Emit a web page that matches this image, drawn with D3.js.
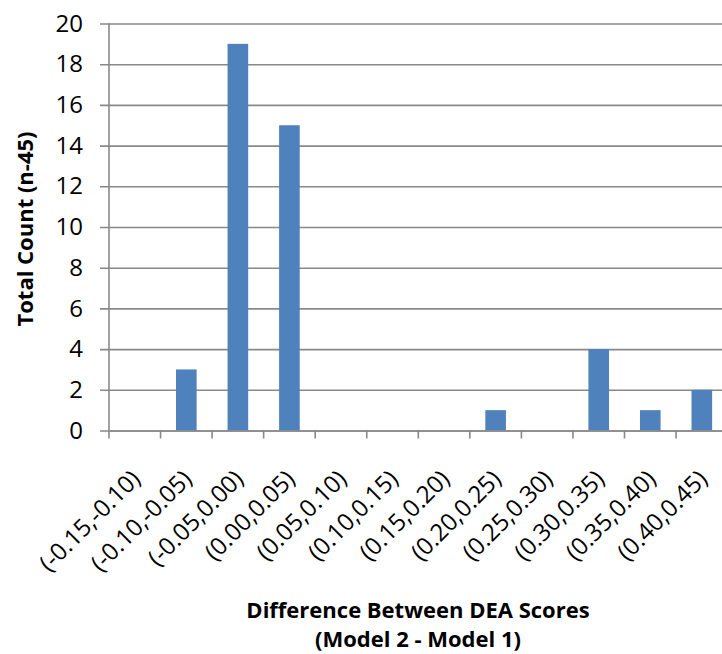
<!DOCTYPE html>
<html>
<head>
<meta charset="utf-8">
<script src="https://cdn.jsdelivr.net/npm/d3@7"></script>
<style>
  body { margin: 0; background: #fff; }
  svg { display: block; font-family: "Open Sans", sans-serif; }
</style>
</head>
<body>
<svg id="chart"></svg>
<script>
let categories = ['(-0.15,-0.10)', '(-0.10,-0.05)', '(-0.05,0.00)', '(0.00,0.05)', '(0.05,0.10)', '(0.10,0.15)',
                  '(0.15,0.20)', '(0.20,0.25)', '(0.25,0.30)', '(0.30,0.35)', '(0.35,0.40)', '(0.40,0.45)'];
let counts = [0, 3, 19, 15, 0, 0, 0, 1, 0, 4, 1, 2];
let yTicks = [0, 2, 4, 6, 8, 10, 12, 14, 16, 18, 20];

let width = 722;
let height = 654;
let plotLeft = 109, plotRight = 727.6, plotTop = 23.5, plotBottom = 430.5;
let gridColor = '#898989';

let svg = d3.select('#chart')
  .attr('width', width)
  .attr('height', height);

let xScale = d3.scaleBand()
  .domain(categories)
  .range([plotLeft, plotRight])
  .paddingInner(0)
  .paddingOuter(0);

let yScale = d3.scaleLinear()
  .domain([0, 20])
  .range([plotBottom, plotTop]);

// horizontal gridlines + y axis labels
let yAxis = d3.axisLeft(yScale)
  .tickValues(yTicks)
  .tickSize(-(plotRight - plotLeft))
  .tickSizeOuter(0)
  .tickPadding(26);

let yG = svg.append('g')
  .attr('transform', 'translate(' + plotLeft + ',0)')
  .call(yAxis);
yG.select('.domain').remove();
yG.selectAll('.tick line')
  .attr('x1', -9)
  .attr('stroke', gridColor)
  .attr('stroke-width', 1.6);
yG.selectAll('.tick text')
  .attr('font-size', 24)
  .attr('fill', '#000')
  .attr('font-family', '"Open Sans", sans-serif');

// bars
svg.selectAll('rect.bar')
  .data(counts)
  .enter()
  .append('rect')
  .attr('class', 'bar')
  .attr('fill', '#4F81BD')
  .attr('x', (d, i) => xScale(categories[i]) + xScale.bandwidth() * 0.3)
  .attr('width', xScale.bandwidth() * 0.4)
  .attr('y', d => yScale(d))
  .attr('height', d => plotBottom - yScale(d));

// y axis line
svg.append('line')
  .attr('x1', plotLeft).attr('x2', plotLeft)
  .attr('y1', plotTop).attr('y2', plotBottom)
  .attr('stroke', gridColor)
  .attr('stroke-width', 1.6);

// x axis line
let xAxis = d3.axisBottom(xScale)
  .tickSize(0)
  .tickFormat('');
let xG = svg.append('g')
  .attr('transform', 'translate(0,' + plotBottom + ')')
  .call(xAxis);
xG.select('.domain')
  .attr('stroke', gridColor)
  .attr('stroke-width', 1.6);

// tick marks at category boundaries
svg.append('g').selectAll('line')
  .data(categories)
  .enter()
  .append('line')
  .attr('x1', d => xScale(d))
  .attr('x2', d => xScale(d))
  .attr('y1', plotBottom)
  .attr('y2', plotBottom + 8)
  .attr('stroke', gridColor)
  .attr('stroke-width', 1.6);

// rotated category labels
svg.append('g').selectAll('text')
  .data(categories)
  .enter()
  .append('text')
  .attr('transform', d => 'translate(' + (xScale(d) + xScale.bandwidth() / 2 + 1) + ',' + (plotBottom + 44) + ') rotate(-45)')
  .attr('text-anchor', 'end')
  .attr('dy', '0.35em')
  .attr('font-size', 24)
  .attr('fill', '#000')
  .text(d => d);

// axis titles
svg.append('text')
  .attr('transform', 'translate(33,' + ((plotTop + plotBottom) / 2 + 2) + ') rotate(-90)')
  .attr('text-anchor', 'middle')
  .attr('font-size', 22)
  .attr('font-weight', 'bold')
  .text('Total Count (n-45)');

let xTitle = svg.append('text')
  .attr('text-anchor', 'middle')
  .attr('font-size', 22)
  .attr('font-weight', 'bold');
xTitle.append('tspan')
  .attr('x', 418)
  .attr('y', 618)
  .text('Difference Between DEA Scores');
xTitle.append('tspan')
  .attr('x', 418)
  .attr('y', 647)
  .text('(Model 2 - Model 1)');
</script>
</body>
</html>
